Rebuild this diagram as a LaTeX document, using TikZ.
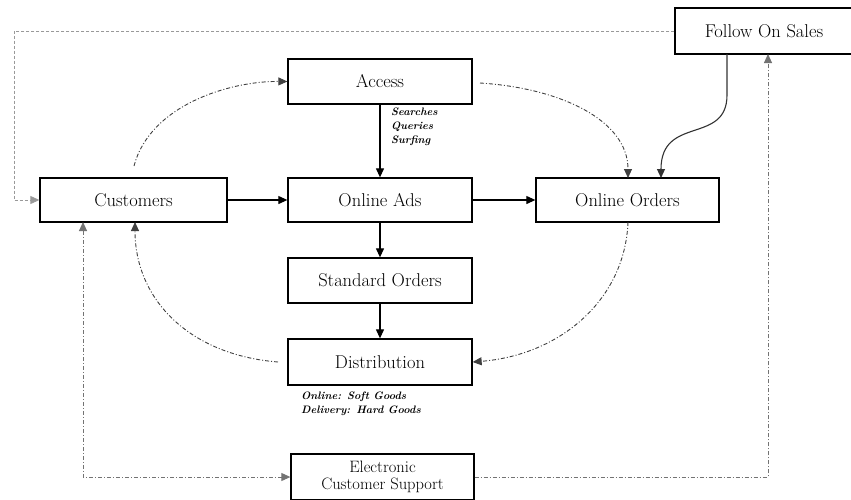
\documentclass[tikz,border=0pt]{standalone}
\usetikzlibrary{arrows.meta}
\begin{document}
\begin{tikzpicture}[x=1pt,y=-1pt,
  box/.style={draw=black,line width=1.3pt,inner sep=0pt,font=\fontsize{18.5}{15}\selectfont,align=center},
  tip/.style={-{Triangle[length=9pt,width=8pt]}},
  solidline/.style={tip,draw=black,line width=1.1pt},
  dashline/.style={tip,draw=black!75,line width=0.9pt,dash pattern=on 4pt off 2pt on 1pt off 2pt},
  dotline/.style={tip,draw=black!40,line width=0.9pt,dash pattern=on 3pt off 2pt},
  lbl/.style={font=\fontsize{10.8}{14}\selectfont\bfseries\itshape,align=left,inner sep=0pt}]
\useasboundingbox (0,0) rectangle (851,499);
\node[box,minimum width=184pt,minimum height=45pt] (acc) at (380,81.5) {Access};
\node[box,minimum width=187pt,minimum height=44pt] (cus) at (133.5,200) {Customers};
\node[box,minimum width=184pt,minimum height=44pt] (ads) at (380,200) {Online Ads};
\node[box,minimum width=183pt,minimum height=44pt] (ord) at (627.5,200) {Online Orders};
\node[box,minimum width=184pt,minimum height=45pt] (std) at (380,280.5) {Standard Orders};
\node[box,minimum width=184pt,minimum height=46pt] (dis) at (380,362) {Distribution};
\node[box,minimum width=183pt,minimum height=46pt,font=\fontsize{16.5}{16.5}\selectfont] (ecs) at (382.5,477) {Electronic\\Customer Support};
\node[box,minimum width=178pt,minimum height=46pt] (fos) at (764,31) {Follow On Sales};
% labels
\node[lbl,anchor=north west] (lq) at (391,108) {Searches\\Queries\\Surfing};
\node[lbl,anchor=north west] (ld) at (301,392) {Online: Soft Goods\\Delivery: Hard Goods};
% coordinates
\coordinate (tl) at (14,31);
\coordinate (bl) at (14,200);
\coordinate (c1) at (134,166);
\coordinate (a1) at (480,83);
\coordinate (o1) at (628,178);
\coordinate (o2) at (661,178);
\coordinate (f1) at (727,54);
\coordinate (o3) at (628,222);
\coordinate (d1) at (278,362);
\coordinate (c2) at (135,222);
\coordinate (c3) at (83,222);
\coordinate (e1) at (83,477);
\coordinate (e2) at (768,477);
\coordinate (f2) at (768,54);
% solid connectors
\draw[solidline] (cus) -- (ads);
\draw[solidline] (ads) -- (ord);
\draw[solidline] (acc) -- (ads);
\draw[solidline] (ads) -- (std);
\draw[solidline] (std) -- (dis);
% curves
\draw[dashline] (c1) .. controls (150,105) and (230,81) .. (acc.west);
\draw[dashline] (a1) .. controls (560,88) and (628,120) .. (o1);
\draw[solidline,draw=black!80] (f1) -- (727,95) .. controls (727,145) and (661,115) .. (o2);
\draw[dashline] (o3) .. controls (625,300) and (560,355) .. (dis.east);
\draw[dashline] (d1) .. controls (190,355) and (135,300) .. (c2);
% outer loops
\draw[dotline] (fos.west) -- (tl) -- (bl) -- (cus.west);
\draw[dashline,{Triangle[length=9pt,width=8pt]}-{Triangle[length=9pt,width=8pt]},draw=black!55] (c3) -- (e1) -- (ecs.west);
\draw[dashline,draw=black!55] (ecs.east) -- (e2) -- (f2);
\end{tikzpicture}
\end{document}
